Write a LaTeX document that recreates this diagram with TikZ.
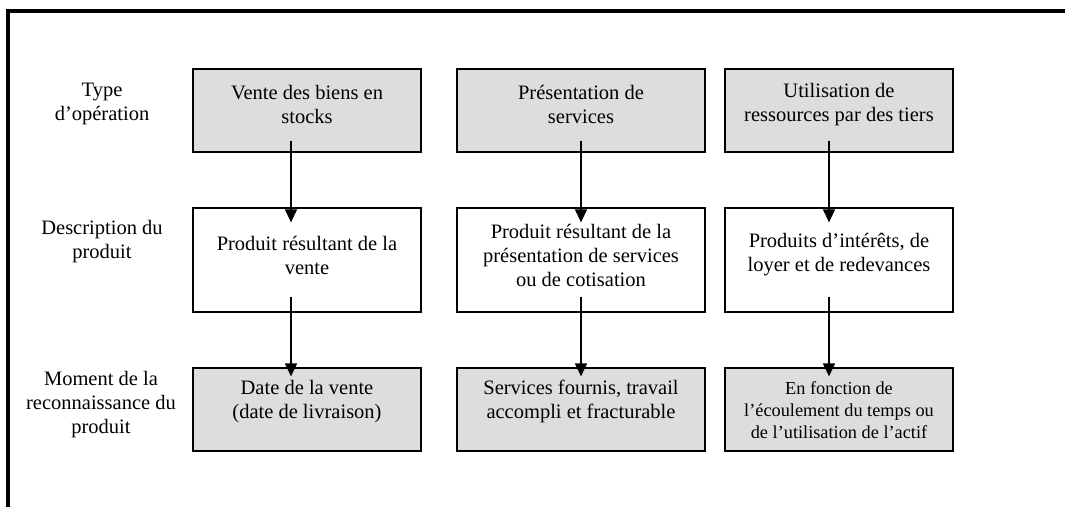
\documentclass[tikz,border=0pt]{standalone}
\usepackage{fontspec}
\setmainfont{Liberation Serif}
\usetikzlibrary{arrows.meta,calc}
\definecolor{boxgray}{RGB}{221,221,221}
\begin{document}
\begin{tikzpicture}[x=1pt,y=-1pt,
  frame/.style={line width=4pt, line join=miter},
  box/.style={draw=black, line width=1.3pt, rectangle, inner sep=0pt},
  grey/.style={box, fill=boxgray},
  white/.style={box, fill=white},
  toprow/.style={minimum height=83pt},
  midrow/.style={minimum height=104pt},
  botrow/.style={minimum height=83pt},
  colA/.style={minimum width=228pt},
  colB/.style={minimum width=248pt},
  colC/.style={minimum width=228pt},
  txt/.style={align=center, inner sep=0pt, font=\fontsize{20.5}{24}\selectfont},
  smalltxt/.style={align=center, inner sep=0pt, font=\fontsize{18.3}{22}\selectfont},
  arr/.style={line width=1.5pt, -{Triangle[width=12pt,length=13pt]}}
]
\useasboundingbox (0,0) rectangle (1065,507);
% frame
\coordinate (fb) at (8,507);
\coordinate (fc) at (8,11);
\coordinate (fr) at (1065,11);
\draw[frame] (fb) -- (fc) -- (fr);

% row labels
\node[txt] (l1) at (102,103.5) {Type\\d’opération};
\node[txt] (l2) at (102,242) {Description du\\produit};
\node[txt] (l3) at (101,405) {Moment de la\\reconnaissance du\\produit};

% top row
\node[grey,toprow,colA] (t1) at (307,110.5) {};
\node[grey,toprow,colB] (t2) at (581,110.5) {};
\node[grey,toprow,colC] (t3) at (839,110.5) {};
\node[txt] (tt1) at (307,104.5) {Vente des biens en\\stocks};
\node[txt] (tt2) at (581,104.5) {Présentation de\\services};
\node[txt] (tt3) at (839,104.5) {Utilisation de\\ressources par des tiers};

% middle row
\node[white,midrow,colA] (m1) at (307,260) {};
\node[white,midrow,colB] (m2) at (581,260) {};
\node[white,midrow,colC] (m3) at (839,260) {};
\node[txt] (mt1) at (307,255) {Produit résultant de la\\vente};
\node[txt] (mt2) at (581,255) {Produit résultant de la\\présentation de services\\ou de cotisation};
\node[txt] (mt3) at (839,255) {Produits d’intérêts, de\\loyer et de redevances};

% bottom row
\node[grey,botrow,colA] (b1) at (307,409.5) {};
\node[grey,botrow,colB] (b2) at (581,409.5) {};
\node[grey,botrow,colC] (b3) at (839,409.5) {};
\node[txt] (bt1) at (307,401.5) {Date de la vente\\(date de livraison)};
\node[txt] (bt2) at (581,401.5) {Services fournis, travail\\accompli et fracturable};
\node[smalltxt] (bt3) at (839,410) {En fonction de\\l’écoulement du temps ou\\de l’utilisation de l’actif};

% arrow columns
\coordinate (x1) at (291,0);
\coordinate (x2) at (581,0);
\coordinate (x3) at (829,0);
\foreach \i in {1,2,3}{
  \draw[arr] ($(t\i.south -| x\i)+(0,-12)$) -- ($(m\i.north -| x\i)+(0,15)$);
  \draw[arr] ($(m\i.south -| x\i)+(0,-16)$) -- ($(b\i.north -| x\i)+(0,9)$);
}
\end{tikzpicture}
\end{document}
